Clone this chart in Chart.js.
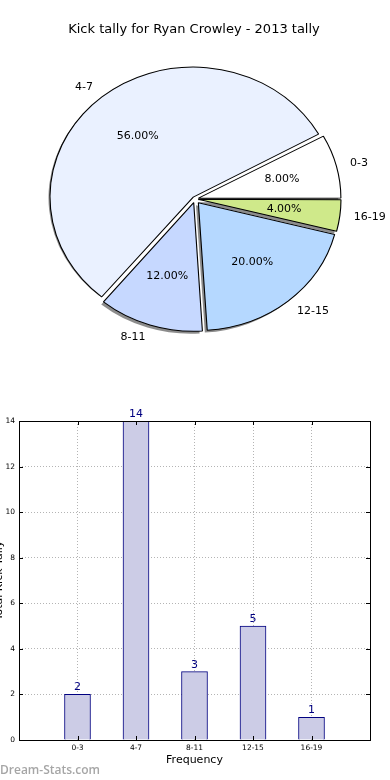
<!DOCTYPE html>
<html><head><meta charset="utf-8">
<script src="https://cdn.jsdelivr.net/npm/chart.js@4.4.1/dist/chart.umd.min.js"></script>
<style>
html,body{margin:0;padding:0;background:#fff;width:390px;height:780px;overflow:hidden;position:relative;}
#pie{position:absolute;left:0;top:0;}
#bar{position:absolute;left:0;top:400px;}
#title{position:absolute;left:0;width:388px;top:21px;text-align:center;font:13px 'DejaVu Sans';color:#000;white-space:nowrap;}
#wm{position:absolute;left:0;top:761px;font:600 12px 'Open Sans';color:#a6a6a6;white-space:nowrap;}
</style></head><body>
<canvas id="pie" width="390" height="398"></canvas>
<canvas id="bar" width="390" height="380"></canvas>
<div id="title"></div>
<div id="wm">Dream-Stats.com</div>
<script>
// ---- data ----
const chartTitle = 'Kick tally for Ryan Crowley - 2013 tally';
const categories = ['0-3', '4-7', '8-11', '12-15', '16-19'];
const kickCounts = [2, 14, 3, 5, 1];
const yTicks = [0, 2, 4, 6, 8, 10, 12, 14];
const xAxisTitle = 'Frequency';
const yAxisTitle = 'Total Kick Tally';

// ---- styles ----
const pieColors = ['#ffffff', '#eaf1ff', '#c6d8ff', '#b5d8ff', '#cfe98a'];
const SX = 140.5 / 127.5;     // horizontal stretch (elliptical pie)
const PIE_R = 127.5;
const EXPLODE = 5;
const FONT = "'DejaVu Sans', sans-serif";

document.getElementById('title').textContent = chartTitle;

const total = kickCounts.reduce((a, b) => a + b, 0);
// Chart.js draws clockwise: reverse order to mimic counter-clockwise layout
const order = categories.map((_, i) => categories.length - 1 - i);
const pieData = order.map(i => kickCounts[i]);
const pieBg = order.map(i => pieColors[i]);
const pieOffsets = pieData.map(v => {
  const circ = v / total * 2 * Math.PI;
  return EXPLODE * 4 / (2 - Math.sin(Math.min(Math.PI, circ)));
});

const piePlugin = {
  id: 'piePlugin',
  beforeDatasetsDraw(chart) {
    const ctx = chart.ctx;
    const meta = chart.getDatasetMeta(0);
    const cx = meta.data[0].x, cy = meta.data[0].y;
    ctx.save();
    ctx.translate(cx, cy); ctx.scale(SX, 1); ctx.translate(-cx, -cy);
    ctx.fillStyle = 'rgba(0,0,0,0.45)';
    meta.data.forEach(el => {
      const mid = (el.startAngle + el.endAngle) / 2;
      const ox = el.x + Math.cos(mid) * EXPLODE - 2.5 / SX;
      const oy = el.y + Math.sin(mid) * EXPLODE + 2.5;
      ctx.beginPath();
      ctx.moveTo(ox, oy);
      ctx.arc(ox, oy, el.outerRadius, el.startAngle, el.endAngle);
      ctx.closePath();
      ctx.fill();
    });
  },
  afterDatasetsDraw(chart) {
    const ctx = chart.ctx;
    ctx.restore();
    const meta = chart.getDatasetMeta(0);
    ctx.save();
    ctx.fillStyle = '#000';
    ctx.font = '11px ' + FONT;
    ctx.textBaseline = 'middle';
    meta.data.forEach((el, i) => {
      const idx = order[i];
      const mid = (el.startAngle + el.endAngle) / 2;
      const c = Math.cos(mid), s = Math.sin(mid);
      const r = el.outerRadius;
      const lx = el.x + SX * (EXPLODE + 1.1 * r) * c;
      const ly = el.y + (EXPLODE + 1.1 * r) * s;
      ctx.textAlign = c > 0 ? 'left' : 'right';
      ctx.fillText(categories[idx], lx, ly);
      const px = el.x + SX * (EXPLODE + 0.6 * r) * c;
      const py = el.y + (EXPLODE + 0.6 * r) * s;
      ctx.textAlign = 'center';
      ctx.fillText((kickCounts[idx] / total * 100).toFixed(2) + '%', px, py);
    });
    ctx.restore();
  }
};

new Chart(document.getElementById('pie'), {
  type: 'pie',
  data: {
    labels: order.map(i => categories[i]),
    datasets: [{
      data: pieData,
      backgroundColor: pieBg,
      borderColor: '#000',
      borderWidth: 1,
      offset: pieOffsets
    }]
  },
  options: {
    responsive: false,
    animation: false,
    rotation: 90,
    radius: PIE_R,
    layout: { padding: 0 },
    plugins: { legend: { display: false }, tooltip: { enabled: false }, title: { display: false } }
  },
  plugins: [piePlugin]
});

// ---- bar chart ----
const barPlugin = {
  id: 'barPlugin',
  afterDraw(chart) {
    const ctx = chart.ctx;
    const a = chart.chartArea;
    const xs = chart.scales.x, ys = chart.scales.y;
    ctx.save();
    ctx.strokeStyle = '#000';
    ctx.lineWidth = 1;
    ctx.strokeRect(Math.round(a.left) + 0.5, Math.round(a.top) + 0.5, Math.round(a.right - a.left), Math.round(a.bottom - a.top));
    ctx.beginPath();
    yTicks.forEach(v => {
      const py = Math.round(ys.getPixelForValue(v)) + 0.5;
      ctx.moveTo(a.left, py); ctx.lineTo(a.left + 4, py);
      ctx.moveTo(a.right - 4, py); ctx.lineTo(a.right, py);
    });
    categories.forEach((_, i) => {
      const px = Math.round(xs.getPixelForValue(i)) + 0.5;
      ctx.moveTo(px, a.bottom); ctx.lineTo(px, a.bottom - 4);
      ctx.moveTo(px, a.top); ctx.lineTo(px, a.top + 4);
    });
    ctx.stroke();
    // value labels
    const meta = chart.getDatasetMeta(0);
    ctx.fillStyle = '#000080';
    ctx.font = '11px ' + FONT;
    ctx.textAlign = 'center';
    ctx.textBaseline = 'alphabetic';
    meta.data.forEach((el, i) => {
      ctx.fillText(String(kickCounts[i]), el.x, el.y - 4);
    });
    // axis titles
    ctx.fillStyle = '#000';
    ctx.font = '11px ' + FONT;
    ctx.textBaseline = 'middle';
    ctx.fillText(xAxisTitle, (a.left + a.right) / 2, 360);
    ctx.save();
    ctx.translate(-1, (a.top + a.bottom) / 2);
    ctx.rotate(-Math.PI / 2);
    ctx.fillText(yAxisTitle, 0, 0);
    ctx.restore();
    ctx.restore();
  }
};

new Chart(document.getElementById('bar'), {
  type: 'bar',
  data: {
    datasets: [{
      data: kickCounts.map((v, i) => ({ x: i, y: v })),
      backgroundColor: '#cccce6',
      borderColor: '#000080',
      borderWidth: 1,
      barThickness: 26
    }]
  },
  options: {
    responsive: false,
    animation: false,
    layout: { padding: { left: 0, right: 20, top: 21, bottom: 0 } },
    plugins: { legend: { display: false }, tooltip: { enabled: false } },
    scales: {
      x: {
        type: 'linear', min: -1, max: 5, z: 1, offset: false,
        afterFit: s => { s.height = 40; },
        border: { display: false, dash: [1, 2] },
        grid: { color: '#b4b4b4', lineWidth: 1, drawTicks: false, offset: false },
        ticks: {
          stepSize: 1, padding: 4, color: '#000', font: { family: FONT, size: 7.5 },
          autoSkip: false, maxRotation: 0,
          callback: v => (Number.isInteger(v) && categories[v] !== undefined) ? categories[v] : ''
        }
      },
      y: {
        min: 0, max: 14, z: 1,
        afterFit: s => { s.width = 19; },
        border: { display: false, dash: [1, 2] },
        grid: { color: '#b4b4b4', lineWidth: 1, drawTicks: false },
        ticks: { stepSize: 2, padding: 4, color: '#000', font: { family: FONT, size: 7.5 } }
      }
    }
  },
  plugins: [barPlugin]
});
</script>
</body></html>
